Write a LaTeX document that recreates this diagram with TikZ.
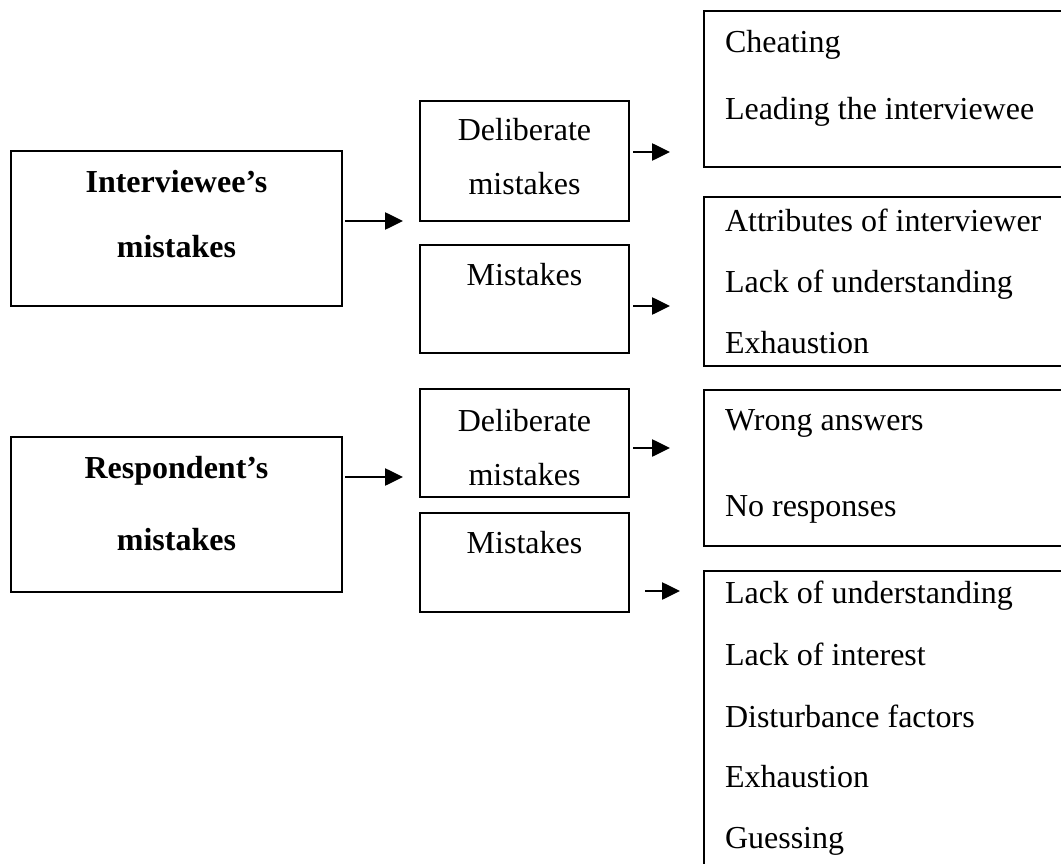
\documentclass[tikz,border=0pt]{standalone}
\usepackage{fontspec}
\setmainfont{Liberation Serif}
\usetikzlibrary{arrows.meta}

\tikzset{
  box/.style={draw, line width=1.8pt, rectangle, inner sep=0pt, outer sep=0pt},
  lbl/.style={inner sep=0pt, outer sep=0pt, anchor=base, font=\fontsize{32}{38}\selectfont},
  head/.style={lbl, font=\fontsize{32}{38}\selectfont\bfseries},
  item/.style={lbl, anchor=base west},
  arr/.style={line width=2.6pt, -{Triangle[length=18pt,width=17pt]}}
}

\begin{document}
\begin{tikzpicture}[x=1pt,y=-1pt]
\useasboundingbox (0,0) rectangle (1061,864);
\clip (0,0) rectangle (1061,864);

% main categories
\node[box, minimum width=331pt, minimum height=155pt] (iv) at (176.5,228.5) {};
\node[box, minimum width=331pt, minimum height=155pt] (rs) at (176.5,514.5) {};
\node[head] (ivt1) at (176.5,193) {Interviewee’s};
\node[head] (ivt2) at (176.5,258) {mistakes};
\node[head] (rst1) at (176.5,478) {Respondent’s};
\node[head] (rst2) at (176.5,550) {mistakes};

% kinds of mistakes
\node[box, minimum width=209pt, minimum height=120pt] (ivd) at (524.5,161) {};
\node[box, minimum width=209pt, minimum height=108pt] (ivm) at (524.5,299) {};
\node[box, minimum width=209pt, minimum height=108pt] (rsd) at (524.5,443) {};
\node[box, minimum width=209pt, minimum height=99pt]  (rsm) at (524.5,562.5) {};
\node[lbl] (ivdt1) at (524.5,141) {Deliberate};
\node[lbl] (ivdt2) at (524.5,195) {mistakes};
\node[lbl] (ivmt)  at (524.5,285) {Mistakes};
\node[lbl] (rsdt1) at (524.5,431) {Deliberate};
\node[lbl] (rsdt2) at (524.5,485) {mistakes};
\node[lbl] (rsmt)  at (524.5,553) {Mistakes};

% causes
\node[box, minimum width=371pt, minimum height=156pt] (c1) at (889.5,89) {};
\node[box, minimum width=371pt, minimum height=169pt] (c2) at (889.5,281.5) {};
\node[box, minimum width=371pt, minimum height=156pt] (c3) at (889.5,468) {};
\node[box, minimum width=371pt, minimum height=309pt] (c4) at (889.5,725.5) {};
\node[item] (c1a) at (725,53)  {Cheating};
\node[item] (c1b) at (725,120) {Leading the interviewee};
\node[item] (c2a) at (725,231) {Attributes of interviewer};
\node[item] (c2b) at (725,292) {Lack of understanding};
\node[item] (c2c) at (725,353) {Exhaustion};
\node[item] (c3a) at (725,430) {Wrong answers};
\node[item] (c3b) at (725,516) {No responses};
\node[item] (c4a) at (725,603) {Lack of understanding};
\node[item] (c4b) at (725,665) {Lack of interest};
\node[item] (c4c) at (725,727) {Disturbance factors};
\node[item] (c4d) at (725,787) {Exhaustion};
\node[item] (c4e) at (725,848) {Guessing};

% short arrows between the columns
\coordinate (a1s) at (345,221); \coordinate (a1e) at (403,221);
\coordinate (a2s) at (345,477); \coordinate (a2e) at (403,477);
\coordinate (b1s) at (633,152); \coordinate (b1e) at (670,152);
\coordinate (b2s) at (633,306); \coordinate (b2e) at (670,306);
\coordinate (b3s) at (633,448); \coordinate (b3e) at (670,448);
\coordinate (b4s) at (645,591); \coordinate (b4e) at (680,591);
\draw[arr] (a1s) -- (a1e);
\draw[arr] (a2s) -- (a2e);
\draw[arr] (b1s) -- (b1e);
\draw[arr] (b2s) -- (b2e);
\draw[arr] (b3s) -- (b3e);
\draw[arr] (b4s) -- (b4e);
\end{tikzpicture}
\end{document}
